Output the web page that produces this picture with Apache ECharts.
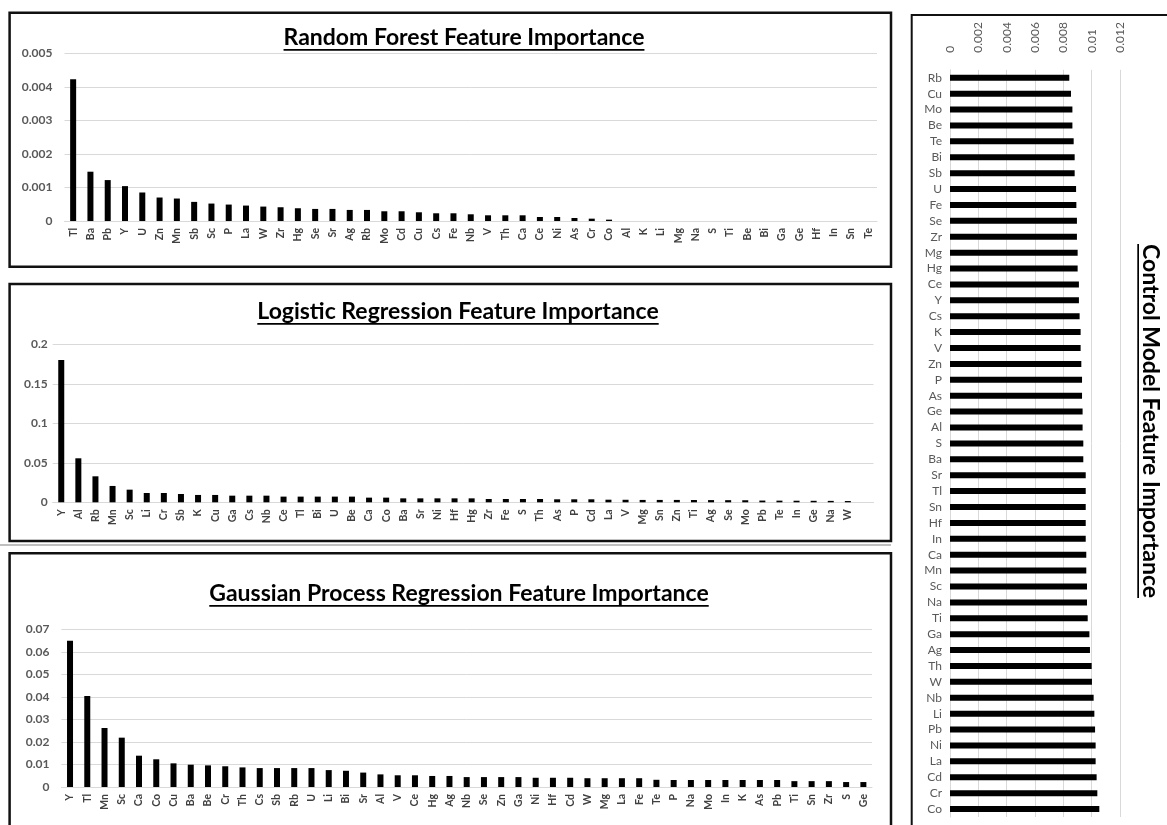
<!DOCTYPE html>
<html>
<head>
<meta charset="utf-8">
<script src="https://cdn.jsdelivr.net/npm/echarts@6/dist/echarts.min.js"></script>
<style>
html,body{margin:0;padding:0;background:#fff;}
#chart{width:1167px;height:825px;}
</style>
</head>
<body>
<div id="chart"></div>
<script>
// ---------- Data ----------
const rfTitle = 'Random Forest Feature Importance';
const rfCats = ['Tl','Ba','Pb','Y','U','Zn','Mn','Sb','Sc','P','La','W','Zr','Hg','Se','Sr','Ag','Rb','Mo','Cd','Cu','Cs','Fe','Nb','V','Th','Ca','Ce','Ni','As','Cr','Co','Al','K','Li','Mg','Na','S','Ti','Be','Bi','Ga','Ge','Hf','In','Sn','Te'];
const rfVals = [0.00423,0.00147,0.00122,0.00104,0.00085,0.00070,0.00067,0.00057,0.00052,0.00049,0.00046,0.00043,0.00041,0.00038,0.00036,0.00036,0.00033,0.00033,0.00029,0.00029,0.00026,0.00023,0.00023,0.00020,0.00017,0.00017,0.00017,0.00012,0.00012,0.00009,0.00007,0.00004,0,0,0,0,0,0,0,0,0,0,0,0,0,0,0];
const rfTicks = {min:0, max:0.005, interval:0.001};

const lrTitle = 'Logistic Regression Feature Importance';
const lrCats = ['Y','Al','Rb','Mn','Sc','Li','Cr','Sb','K','Cu','Ga','Cs','Nb','Ce','Tl','Bi','U','Be','Ca','Co','Ba','Sr','Ni','Hf','Hg','Zr','Fe','S','Th','As','P','Cd','La','V','Mg','Sn','Zn','Ti','Ag','Se','Mo','Pb','Te','In','Ge','Na','W'];
const lrVals = [0.180,0.0557,0.0329,0.0207,0.016,0.0118,0.0118,0.0105,0.0093,0.0093,0.0084,0.0084,0.0084,0.0072,0.0072,0.0072,0.0072,0.0072,0.0059,0.0059,0.005,0.005,0.005,0.005,0.005,0.0042,0.0042,0.0042,0.0042,0.0038,0.0038,0.0038,0.0033,0.0032,0.003,0.003,0.003,0.0029,0.0028,0.0027,0.0026,0.0022,0.0021,0.002,0.0019,0.0018,0.0016];
const lrTicks = {min:0, max:0.2, interval:0.05};

const gprTitle = 'Gaussian Process Regression Feature Importance';
const gprCats = ['Y','Tl','Mn','Sc','Ca','Co','Cu','Ba','Be','Cr','Th','Cs','Sb','Rb','U','Li','Bi','Sr','Al','V','Ce','Hg','Ag','Nb','Se','Zn','Ga','Ni','Hf','Cd','W','Mg','La','Fe','Te','P','Na','Mo','In','K','As','Pb','Ti','Sn','Zr','S','Ge'];
const gprVals = [0.0649,0.0404,0.0262,0.0219,0.0139,0.0123,0.0105,0.0099,0.0096,0.0092,0.0087,0.0084,0.0084,0.0084,0.0084,0.0075,0.0072,0.0064,0.0056,0.0052,0.0052,0.0049,0.0049,0.0044,0.0044,0.0044,0.0044,0.0041,0.0041,0.0041,0.0039,0.0039,0.0039,0.0039,0.0032,0.0031,0.0031,0.0031,0.0031,0.0031,0.0031,0.0031,0.0026,0.0026,0.0026,0.0022,0.0022];
const gprTicks = {min:0, max:0.07, interval:0.01};

const ctrlTitle = 'Control Model Feature Importance';
const ctrlCats = ['Rb','Cu','Mo','Be','Te','Bi','Sb','U','Fe','Se','Zr','Mg','Hg','Ce','Y','Cs','K','V','Zn','P','As','Ge','Al','S','Ba','Sr','Tl','Sn','Hf','In','Ca','Mn','Sc','Na','Ti','Ga','Ag','Th','W','Nb','Li','Pb','Ni','La','Cd','Cr','Co'];
const ctrlVals = [0.00842,0.00854,0.00864,0.00864,0.00873,0.0088,0.0088,0.0089,0.00892,0.00896,0.00896,0.00901,0.00901,0.0091,0.0091,0.00915,0.00922,0.00922,0.00927,0.00932,0.00932,0.00936,0.00936,0.00941,0.00941,0.00958,0.00958,0.00958,0.00958,0.00958,0.00962,0.00962,0.00967,0.00967,0.00972,0.00984,0.00988,0.0100,0.01002,0.01014,0.01019,0.01024,0.01028,0.01028,0.01035,0.0104,0.01054];
const ctrlTicks = {min:0, max:0.012, interval:0.002};

// ---------- Helpers ----------
const FONT = 'Lato';
const titleFont = 'bold 23px ' + FONT;
function measure(t, font){
  const c = document.createElement('canvas').getContext('2d');
  c.font = font;
  return c.measureText(t).width;
}
function titleGraphic(text, cx, cy, rot){
  const w = measure(text, titleFont);
  return {
    type:'group', x:cx, y:cy, rotation: rot || 0, silent:true,
    children:[
      {type:'text', style:{text:text, font:titleFont, fill:'#000', align:'center', verticalAlign:'middle', textAlign:'center', textVerticalAlign:'middle'}},
      {type:'rect', shape:{x:-w/2, y:11, width:w, height:1.7}, style:{fill:'#000'}}
    ]
  };
}
function box(x, y, w, h, lw){
  return {type:'rect', shape:{x:x, y:y, width:w, height:h}, style:{fill:'none', stroke:'#111', lineWidth:lw}, silent:true};
}

const gridLine = {show:true, lineStyle:{color:'#d9d9d9', width:1}};
function catAxisV(idx, data){
  return {
    type:'category', gridIndex:idx, data:data, boundaryGap:true,
    axisLine:{show:true, lineStyle:{color:'#d9d9d9', width:1}},
    axisTick:{show:false},
    axisLabel:{rotate:90, interval:0, fontFamily:FONT, fontWeight:'bold', fontSize:10.5, color:'#404040', margin:7}
  };
}
function valAxisV(idx, t, margin){
  return {
    type:'value', gridIndex:idx, min:t.min, max:t.max, interval:t.interval,
    axisLine:{show:false}, axisTick:{show:false}, splitLine:gridLine,
    axisLabel:{fontFamily:FONT, fontWeight:'bold', fontSize:12, color:'#595959', margin:margin}
  };
}
function barSeries(idx, data, bw){
  return {type:'bar', xAxisIndex:idx, yAxisIndex:idx, data:data, barWidth:bw, itemStyle:{color:'#000'}, silent:true, animation:false};
}

const option = {
  backgroundColor:'#fff',
  animation:false,
  grid:[
    {left:64.5, top:53.3, width:812.5, height:167.7},
    {left:52.7, top:344.3, width:820.8, height:158},
    {left:61.4, top:629.3, width:810.6, height:157.7},
    {left:950, top:69.8, width:170, height:747.2}
  ],
  xAxis:[
    catAxisV(0, rfCats),
    catAxisV(1, lrCats.concat([''])),
    catAxisV(2, gprCats),
    {
      type:'value', gridIndex:3, position:'top', min:ctrlTicks.min, max:ctrlTicks.max, interval:ctrlTicks.interval,
      axisLine:{show:false}, axisTick:{show:false}, splitLine:gridLine,
      axisLabel:{rotate:-90, fontFamily:FONT, fontSize:12, color:'#595959', margin:17}
    }
  ],
  yAxis:[
    valAxisV(0, rfTicks, 12),
    valAxisV(1, lrTicks, 5),
    valAxisV(2, gprTicks, 12),
    {
      type:'category', gridIndex:3, data:ctrlCats, inverse:true, boundaryGap:true,
      axisLine:{show:true, lineStyle:{color:'#d9d9d9', width:1}},
      axisTick:{show:false},
      axisLabel:{interval:0, fontFamily:FONT, fontSize:12, color:'#595959', margin:8}
    }
  ],
  series:[
    barSeries(0, rfVals, 6),
    barSeries(1, lrVals, 6),
    barSeries(2, gprVals, 6),
    {type:'bar', xAxisIndex:3, yAxisIndex:3, data:ctrlVals, barWidth:6, itemStyle:{color:'#000'}, silent:true, animation:false}
  ],
  graphic:[
    {type:'line', shape:{x1:0, y1:545, x2:891, y2:545}, style:{stroke:'#aaa', lineWidth:1.5}, silent:true},
    box(9.6, 12.7, 881.4, 254, 2.5),
    box(9.6, 284, 881.4, 257, 2.5),
    box(9.6, 553.3, 881.4, 290, 2.5),
    box(911.7, 15, 300, 830, 2),
    titleGraphic(rfTitle, 464, 38),
    titleGraphic(lrTitle, 458, 312),
    titleGraphic(gprTitle, 459, 594),
    titleGraphic(ctrlTitle, 1150, 421, -Math.PI/2)
  ]
};

const chart = echarts.init(document.getElementById('chart'), null, {renderer:'canvas'});
chart.setOption(option);
</script>
</body>
</html>
